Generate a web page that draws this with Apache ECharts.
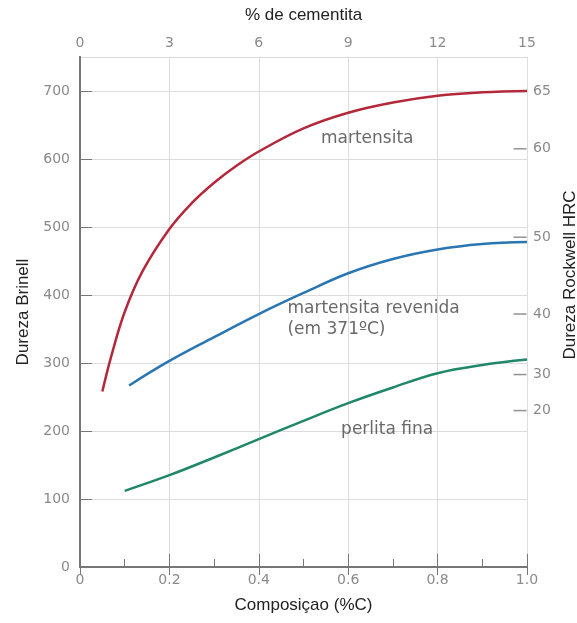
<!DOCTYPE html>
<html>
<head>
<meta charset="utf-8">
<script src="https://cdn.jsdelivr.net/npm/echarts@6/dist/echarts.min.js"></script>
<style>html,body{margin:0;padding:0;background:#fff;overflow:hidden}#c{width:577px;height:623px}</style>
</head>
<body>
<div id="c"></div>
<script>
// Carbon composition (%C) and Brinell hardness
const martensitaX = [0.05, 0.07, 0.10, 0.14, 0.20, 0.25, 0.30, 0.35, 0.40, 0.50, 0.60, 0.70, 0.80, 0.90, 1.00];
const martensitaY = [258, 310, 375, 435, 497, 535, 565, 590, 611, 645, 668, 683, 693, 698, 700];
const revenidaX = [0.11, 0.20, 0.30, 0.40, 0.50, 0.60, 0.70, 0.80, 0.90, 1.00];
const revenidaY = [267, 303, 338, 372, 403, 432, 453, 467, 475, 478];
const perlitaX = [0.10, 0.20, 0.30, 0.40, 0.50, 0.60, 0.70, 0.80, 0.90, 1.00];
const perlitaY = [112, 135, 161, 188, 215, 241, 264, 285, 297, 305];
// Rockwell HRC scale positions (in Brinell units)
const hrcLabels = ['65', '60', '50', '40', '30', '20'];
const hrcBrinell = [700, 615, 485, 372, 283, 230];
// annotations
const annotTexts = ['martensita', 'martensita revenida\n(em 371ºC)', 'perlita fina'];
const annotX = [0.538, 0.463, 0.583];
const annotY = [630, 364, 202];

const zip = (xs, ys) => xs.map((x, i) => [x, ys[i]]);
const axisCol = '#777';
const labCol = '#8a8a8a';
const nameStyle = {fontFamily: 'Liberation Sans', fontSize: 17, color: '#222'};
const tickFont = {fontFamily: 'DejaVu Sans', fontSize: 14, color: labCol};

const chart = echarts.init(document.getElementById('c'));
chart.setOption({
  animation: false,
  backgroundColor: '#fff',
  grid: {left: 80, right: 50, top: 57, bottom: 56, containLabel: false, outerBoundsMode: 'none'},
  xAxis: [{
    type: 'value', min: 0, max: 1, interval: 0.2, position: 'bottom',
    name: 'Composiçao (%C)', nameLocation: 'middle', nameGap: 30, nameTextStyle: nameStyle,
    axisLine: {show: true, lineStyle: {color: axisCol, width: 2}},
    axisTick: {show: true, inside: true, length: 13, lineStyle: {color: axisCol}},
    minorTick: {show: true, splitNumber: 2, length: 8, lineStyle: {color: axisCol}},
    axisLabel: Object.assign({formatter: v => v === 0 ? '0' : v.toFixed(1), margin: 6}, tickFont),
    splitLine: {show: true, lineStyle: {color: '#dcdcdc', width: 1}}
  }, {
    type: 'value', min: 0, max: 15, interval: 3, position: 'top',
    name: '% de cementita', nameLocation: 'middle', nameGap: 33, nameTextStyle: nameStyle,
    axisLine: {show: true, lineStyle: {color: axisCol, width: 2}},
    axisTick: {show: true, inside: true, length: 8, lineStyle: {color: axisCol}},
    axisLabel: Object.assign({margin: 7}, tickFont),
    splitLine: {show: false}
  }],
  yAxis: [{
    type: 'value', min: 0, max: 750, interval: 100, position: 'left',
    name: 'Dureza Brinell', nameLocation: 'middle', nameGap: 48, nameTextStyle: nameStyle,
    axisLine: {show: true, lineStyle: {color: axisCol, width: 2}},
    axisTick: {show: true, inside: true, length: 12, lineStyle: {color: axisCol}},
    axisLabel: Object.assign({margin: 10, showMaxLabel: false}, tickFont),
    splitLine: {show: true, lineStyle: {color: '#dcdcdc', width: 1}}
  }, {
    type: 'value', min: 0, max: 750, position: 'right',
    name: 'Dureza Rockwell HRC', nameLocation: 'middle', nameGap: 27,
    nameTextStyle: Object.assign({padding: [0, 0, 0, 74]}, nameStyle),
    axisLine: {show: true, lineStyle: {color: axisCol, width: 2}},
    axisTick: {show: false},
    axisLabel: Object.assign({margin: 6, customValues: hrcBrinell,
      formatter: v => { const i = hrcBrinell.indexOf(v); return i >= 0 ? hrcLabels[i] : ''; }}, tickFont),
    splitLine: {show: false}
  }],
  series: [{
    type: 'line', name: 'martensita', data: zip(martensitaX, martensitaY),
    smooth: 0.4, showSymbol: false, lineStyle: {color: '#b3283a', width: 2.5}
  }, {
    type: 'line', name: 'martensita revenida', data: zip(revenidaX, revenidaY),
    smooth: 0.4, showSymbol: false, lineStyle: {color: '#2a76b2', width: 2.5}
  }, {
    type: 'line', name: 'perlita fina', data: zip(perlitaX, perlitaY),
    smooth: 0.4, showSymbol: false, lineStyle: {color: '#21876a', width: 2.5}
  }, {
    // right-axis (HRC) tick marks, drawn inward from the right axis line
    type: 'scatter', name: 'hrcTicks', silent: true, z: 1,
    data: hrcBrinell.map(v => [1, v]),
    symbol: 'rect', symbolSize: [13, 1.5], symbolOffset: [-7, 0],
    itemStyle: {color: axisCol}
  }, {
    type: 'scatter', name: 'annotations', silent: true,
    data: annotTexts.map((t, i) => ({value: [annotX[i], annotY[i]], name: t})),
    symbolSize: 1, itemStyle: {color: 'rgba(0,0,0,0)'},
    label: {show: true, formatter: p => p.name, position: 'right', distance: 0,
      fontFamily: 'DejaVu Sans', fontSize: 17, color: '#444', lineHeight: 21}
  }]
});
</script>
</body>
</html>
